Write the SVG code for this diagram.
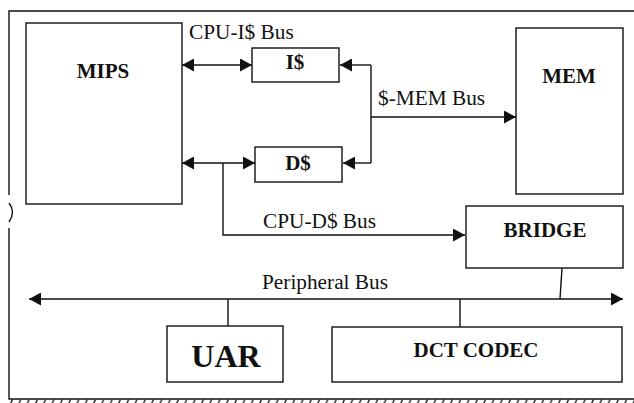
<svg xmlns="http://www.w3.org/2000/svg" width="634" height="403" viewBox="0 0 634 403">
<defs>
<style>
.box{fill:#fff;stroke:#111;stroke-width:1.4}
.ln{fill:none;stroke:#111;stroke-width:1.4}
.b{font-family:"Liberation Serif",serif;font-weight:bold;font-size:21px;fill:#111;text-anchor:middle}
.r{font-family:"Liberation Serif",serif;font-size:21.3px;fill:#111}
</style>
<marker id="ah" viewBox="0 0 12 13" refX="12" refY="6.5" markerWidth="12" markerHeight="13" markerUnits="userSpaceOnUse" orient="auto-start-reverse">
<path d="M0,0 L12,6.5 L0,13 Z" fill="#111"/>
</marker>
<pattern id="hatch" x="0" y="399" width="8.3" height="5" patternUnits="userSpaceOnUse">
<path d="M2,5 L4.5,0" stroke="#111" stroke-width="1.3"/>
</pattern>
</defs>
<rect width="634" height="403" fill="#fff"/>
<g id="frame">
<path class="ln" d="M634,11 H9 V195 M9,228 V399 H634"/>
<path class="ln" d="M9,203 Q16,212 9,222"/>
<rect x="9" y="399.5" width="625" height="4" fill="url(#hatch)"/>
</g>
<g id="connectors">
<path class="ln" d="M182,65 H252" marker-start="url(#ah)" marker-end="url(#ah)"/>
<path class="ln" d="M182,163 H255" marker-start="url(#ah)" marker-end="url(#ah)"/>
<path class="ln" d="M223,163 V235 H465" marker-end="url(#ah)"/>
<path class="ln" d="M371,65 H340" marker-end="url(#ah)"/>
<path class="ln" d="M371,163 H343" marker-end="url(#ah)"/>
<path class="ln" d="M371,65 V163"/>
<path class="ln" d="M371,117 H516" marker-end="url(#ah)"/>
<path class="ln" d="M29,299 H623" marker-start="url(#ah)" marker-end="url(#ah)"/>
<path class="ln" d="M562,268 L560,299"/>
<path class="ln" d="M228,299 V326"/>
<path class="ln" d="M460,299 V327"/>
<text class="r" x="189" y="39">CPU-I$ Bus</text>
<text class="r" x="378" y="105">$-MEM Bus</text>
<text class="r" x="263" y="228">CPU-D$ Bus</text>
<text class="r" x="262" y="289">Peripheral Bus</text>
</g>
<g id="mips"><rect class="box" x="26" y="23" width="156" height="181"/><text class="b" x="103" y="78">MIPS</text></g>
<g id="icache"><rect class="box" x="252" y="48" width="87" height="34"/><text class="b" x="295" y="69">I$</text></g>
<g id="dcache"><rect class="box" x="255" y="147" width="87" height="35"/><text class="b" x="298" y="170">D$</text></g>
<g id="mem"><rect class="box" x="516" y="28" width="107" height="166"/><text class="b" x="569" y="83">MEM</text></g>
<g id="bridge"><rect class="box" x="466" y="206" width="157" height="62"/><text class="b" x="545" y="237">BRIDGE</text></g>
<g id="uar"><rect class="box" x="167" y="326" width="116" height="56"/><text class="b" x="226" y="367" style="font-size:32px">UAR</text></g>
<g id="dct"><rect class="box" x="332" y="327" width="290" height="55"/><text class="b" x="476" y="357">DCT CODEC</text></g>
</svg>
